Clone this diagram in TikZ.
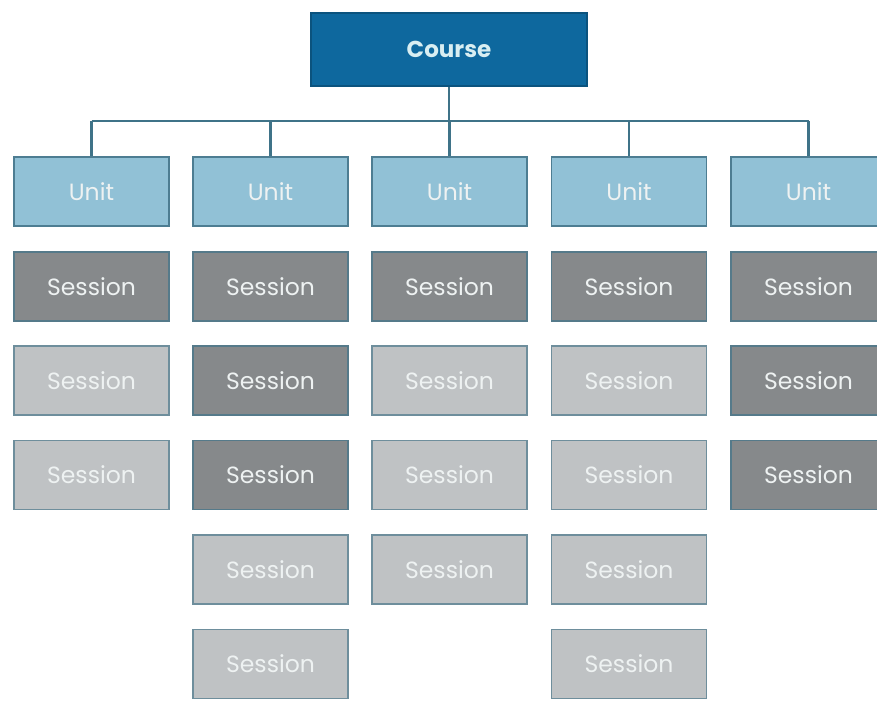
\documentclass[tikz,border=0pt]{standalone}
\usepackage{fontspec}
\setmainfont{Poppins}
\definecolor{coursefill}{HTML}{0E689E}
\definecolor{coursetext}{HTML}{D8EEF2}
\definecolor{unitfill}{HTML}{91C1D6}
\definecolor{unitborder}{HTML}{4D7D92}
\definecolor{darkfill}{HTML}{86898B}
\definecolor{lightfill}{HTML}{BFC2C4}
\definecolor{sessborder}{HTML}{557A8A}
\definecolor{linecol}{HTML}{3F7388}
\definecolor{boxtext}{HTML}{EEF2F2}
\tikzset{
  box/.style={rectangle, minimum width=155pt, minimum height=69pt, line width=1.8pt, inner sep=0pt, font=\fontsize{23.5}{28}\selectfont, text=boxtext},
  coursebox/.style={box, minimum width=276pt, minimum height=73pt, fill=coursefill, draw=coursefill!80!black, text=coursetext, font=\fontsize{23}{28}\selectfont\bfseries},
  unitbox/.style={box, fill=unitfill, draw=unitborder},
  darkbox/.style={box, fill=darkfill, draw=sessborder},
  lightbox/.style={box, fill=lightfill, draw=sessborder!85},
  conn/.style={draw=linecol, line width=2.4pt}
}
\begin{document}
\begin{tikzpicture}[x=1pt,y=-1pt]
\useasboundingbox (0,0) rectangle (877,701);
\clip (0,0) rectangle (877,701);
\fill[white] (0,0) rectangle (877,701);
\node[coursebox] (course) at (449,49.5) {Course};
% column centers
\def\ca{91.5}\def\cb{270.5}\def\cc{449.5}\def\cd{629}\def\ce{808.5}
\node[unitbox] (u1) at (\ca,191.5) {Unit};
\node[unitbox] (u2) at (\cb,191.5) {Unit};
\node[unitbox] (u3) at (\cc,191.5) {Unit};
\node[unitbox] (u4) at (\cd,191.5) {Unit};
\node[unitbox] (u5) at (\ce,191.5) {Unit};
% column 1
\node[darkbox]  (s11) at (\ca,286.5) {Session};
\node[lightbox] (s12) at (\ca,380.5) {Session};
\node[lightbox] (s13) at (\ca,475) {Session};
% column 2
\node[darkbox]  (s21) at (\cb,286.5) {Session};
\node[darkbox]  (s22) at (\cb,380.5) {Session};
\node[darkbox]  (s23) at (\cb,475) {Session};
\node[lightbox] (s24) at (\cb,569.5) {Session};
\node[lightbox] (s25) at (\cb,664) {Session};
% column 3
\node[darkbox]  (s31) at (\cc,286.5) {Session};
\node[lightbox] (s32) at (\cc,380.5) {Session};
\node[lightbox] (s33) at (\cc,475) {Session};
\node[lightbox] (s34) at (\cc,569.5) {Session};
% column 4
\node[darkbox]  (s41) at (\cd,286.5) {Session};
\node[lightbox] (s42) at (\cd,380.5) {Session};
\node[lightbox] (s43) at (\cd,475) {Session};
\node[lightbox] (s44) at (\cd,569.5) {Session};
\node[lightbox] (s45) at (\cd,664) {Session};
% column 5
\node[darkbox]  (s51) at (\ce,286.5) {Session};
\node[darkbox]  (s52) at (\ce,380.5) {Session};
\node[darkbox]  (s53) at (\ce,475) {Session};
% connectors
\coordinate (bus) at (0,121);
\draw[conn] (course.south) -- (course.south |- bus);
\draw[conn] (u1.north |- bus) -- (u5.north |- bus);
\foreach \u in {u1,u2,u3,u4,u5}{
  \draw[conn] (\u.north |- bus) -- (\u.north);
}
\end{tikzpicture}
\end{document}
